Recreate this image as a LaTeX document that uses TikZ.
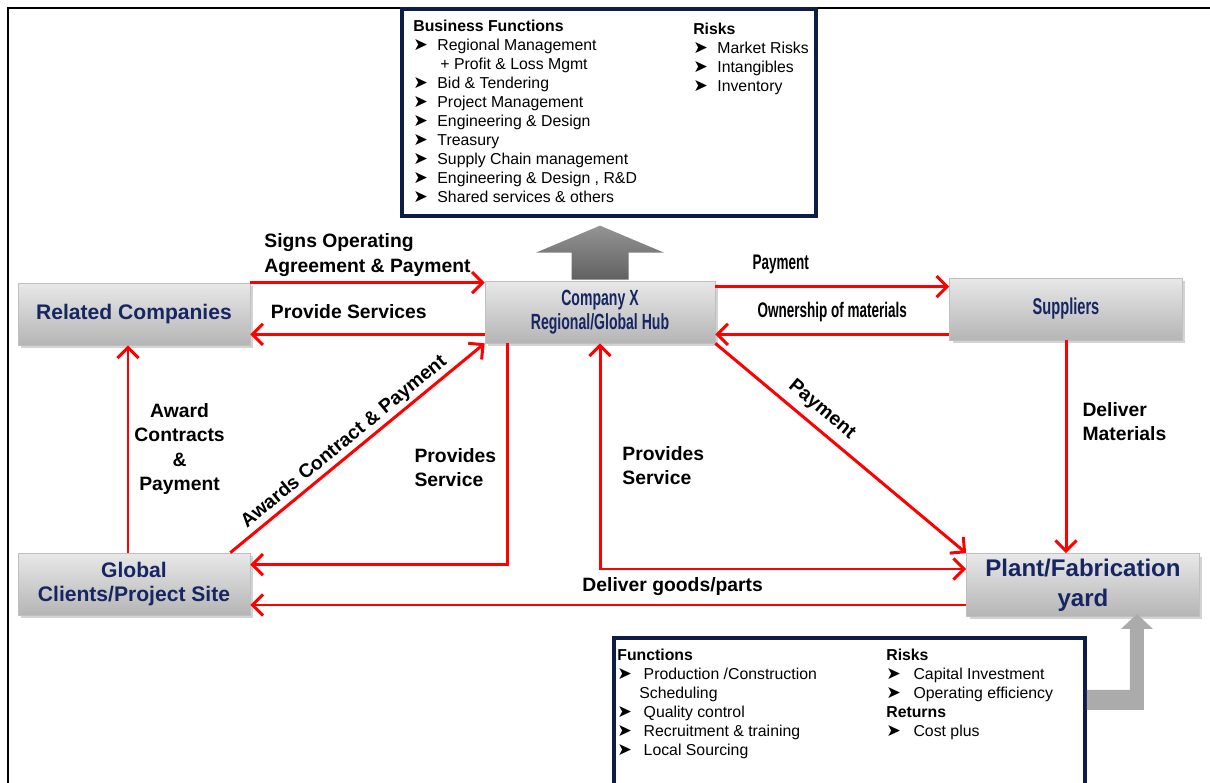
\documentclass[tikz,border=0pt]{standalone}
\usepackage{fontspec}
\setmainfont{Liberation Sans}
\newfontfamily\condfont[FakeStretch=0.64]{Liberation Sans}
\newfontfamily\symfont{DejaVu Sans}
\usepackage{tikz}
\usetikzlibrary{positioning}
\usetikzlibrary{arrows,arrows.meta}
\usetikzlibrary{calc}
\usetikzlibrary{shadows}
\definecolor{boxblue}{RGB}{22,38,98}
\definecolor{framenavy}{RGB}{14,28,72}
\tikzstyle{block} = [draw=gray!50, rectangle, top color=gray!18, bottom color=gray!58, drop shadow={shadow xshift=0.06cm, shadow yshift=-0.06cm, opacity=0.35}, minimum height=1.24cm, minimum width=4.64cm, inner sep=0pt, align=center, text=boxblue, font=\bfseries\fontsize{12}{14}\selectfont]
\tikzstyle{infobox} = [draw=framenavy, line width=2.3pt, fill=white, rectangle]
\tikzstyle{lbl} = [inner sep=0pt, text=black, font=\bfseries\fontsize{11}{13.7}\selectfont]
\tikzstyle{narrowlbl} = [lbl, font=\condfont\bfseries\fontsize{12}{14}\selectfont]
\tikzstyle{list} = [inner sep=0pt, align=left, anchor=north west, font=\fontsize{9}{10.8}\selectfont]
\tikzstyle{flow} = [draw=red, line width=1.7pt, ->]

\newcommand{\bul}{{\symfont\scalebox{1.1}{➤}}}
\newcommand{\itm}[1][13.7pt]{\makebox[#1][l]{\bul}}

\begin{document}
\begin{tikzpicture}[x=0.02cm, y=-0.02cm, >={Straight Barb[length=6pt,width=12pt]}]
	\useasboundingbox (0,0) rectangle (1210,783);
	\clip (0,0) rectangle (1210,783);
	\draw [line width=1pt] (8,800) |- (1220,8);

	% boxes with functions and risks
	\node [infobox, minimum width=8.28cm, minimum height=4.14cm] (tbox) at (609,112.5) {};
	\node [infobox, minimum width=9.42cm, minimum height=3.24cm] (fbox) at (849.5,719) {};

	\node [list] (bizlist) at ([xshift=0.26cm, yshift=-0.26cm]tbox.north west)
	{\textbf{Business Functions}\\
	\itm Regional Management\\
	\hspace*{15.4pt}+ Profit \& Loss Mgmt\\
	\itm Bid \& Tendering\\
	\itm Project Management\\
	\itm Engineering \& Design\\
	\itm Treasury\\
	\itm Supply Chain management\\
	\itm Engineering \& Design , R\&D\\
	\itm Shared services \& others};
	\node [list] (hubrisks) at ([xshift=5.86cm, yshift=-0.32cm]tbox.north west)
	{\textbf{Risks}\\
	\itm Market Risks\\
	\itm Intangibles\\
	\itm Inventory};

	\node [list] (plantfunc) at ([xshift=0.1cm, yshift=-0.26cm]fbox.north west)
	{\textbf{Functions}\\
	\itm[12.5pt] Production /Construction\\
	\hspace*{12.5pt}Scheduling\\
	\itm[12.5pt] Quality control\\
	\itm[12.5pt] Recruitment \& training\\
	\itm[12.5pt] Local Sourcing};
	\node [list] (plantrisks) at ([xshift=5.48cm, yshift=-0.26cm]fbox.north west)
	{\textbf{Risks}\\
	\itm[13pt] Capital Investment\\
	\itm[13pt] Operating efficiency\\
	\textbf{Returns}\\
	\itm[13pt] Cost plus};

	% main parties
	\node [block] (rel) at (134,314) {Related Companies};
	\node [block, minimum width=4.6cm, font=\condfont\bfseries\fontsize{12.5}{13.7}\selectfont] (hub) at (600,312)
		{Company X\\Regional/Global Hub};
	\node [block, minimum width=4.66cm, font=\condfont\bfseries\fontsize{13}{14}\selectfont] (sup) at (1066,309)
		{Suppliers};
	\node [block] (glob) at (134,584) {Global\\Clients/Project Site};
	\node [block, minimum width=4.66cm, minimum height=1.26cm, font=\bfseries\fontsize{13.7}{17}\selectfont] (plant) at (1083,585)
		{Plant/Fabrication\\yard};

	% grey arrows to the boxes
	\shade [top color=black!42, bottom color=black!62] ([yshift=0.02cm]hub.north) ++(-28.5,0) -- ++(0,-27) -- ++(-35.5,0)
		-- ++(64,-27) -- ++(64,27) -- ++(-35.5,0) -- ++(0,27) -- cycle;
	\fill [black!33] ([yshift=-1.08cm]fbox.north east) -- ++(43,0) -- ++(0,-61) -- ++(-9,0) -- ++(16,-15)
		-- ++(16,15) -- ++(-9,0) -- ++(0,81) -- ++(-57,0) -- cycle;

	% flows
	\draw [flow] (rel.north east) -- node [lbl, above=0.1cm, align=left]
		{Signs Operating\\Agreement \& Payment} (rel.north east -| hub.west);
	\draw [flow] ([yshift=0.22cm]rel.south east -| hub.west) -- node [lbl, above=0.28cm, pos=0.58]
		{Provide Services} ([yshift=0.22cm]rel.south east);
	\draw [flow] ([yshift=-0.12cm]hub.north east) -- node [narrowlbl, above=0.22cm, pos=0.28]
		{Payment} ([yshift=-0.12cm]hub.north east -| sup.west);
	\draw [flow] ([yshift=0.12cm]sup.south west) -- node [narrowlbl, above=0.22cm]
		{Ownership of materials} ([yshift=0.12cm]sup.south west -| hub.east);
	\draw [flow] (sup.south) -- node [lbl, right=0.3cm, pos=0.38, align=left]
		{Deliver\\Materials} (sup.south |- plant.north);
	\draw [flow] ([xshift=-0.12cm]glob.north) -- node [lbl, right=0.1cm, align=center]
		{Award\\Contracts\\\&\\Payment} ([xshift=-0.12cm]rel.south);
	\draw [flow] ([xshift=-0.4cm]glob.north east) -- node [lbl, sloped, above=0.05cm, pos=0.48]
		{Awards Contract \& Payment} (hub.south west);
	\draw [flow] ([xshift=0.46cm]hub.south west) |- node [lbl, left=0.2cm, pos=0.28, align=left]
		{Provides\\Service} ([yshift=-0.24cm]glob.north east);
	\draw [flow, <->] (hub.south) |- node [lbl, right=0.42cm, pos=0.27, align=left]
		{Provides\\Service} ([yshift=0.32cm]plant.west);
	\draw [flow] (hub.south east) -- node [lbl, sloped, above=0.14cm, pos=0.38]
		{Payment} (plant.north west);
	\draw [flow] ([yshift=-0.4cm]plant.west) -- node [lbl, above=0.16cm, pos=0.41]
		{Deliver goods/parts} ([yshift=-0.4cm]plant.west -| glob.east);
\end{tikzpicture}
\end{document}
